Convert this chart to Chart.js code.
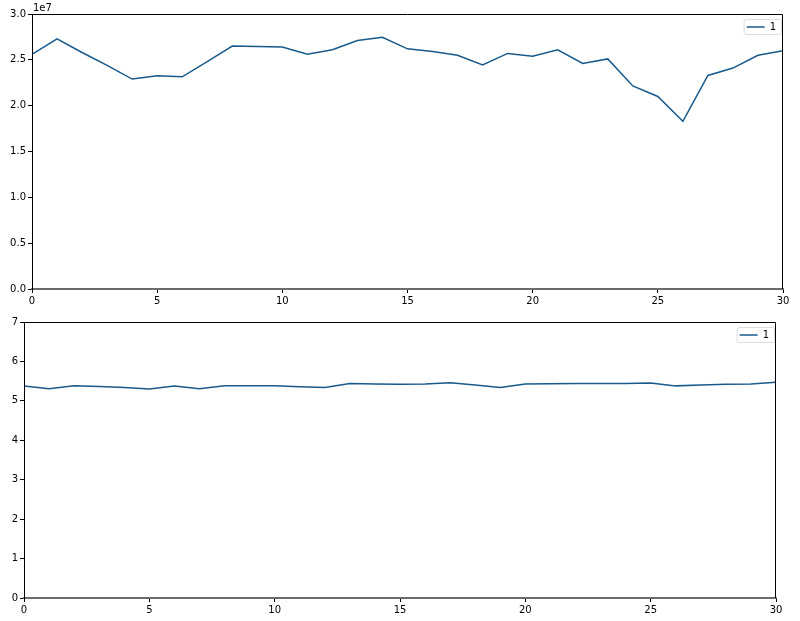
<!DOCTYPE html>
<html>
<head>
  <meta charset="utf-8">
  <title>Two series</title>
  <script src="https://cdn.jsdelivr.net/npm/chart.js"></script>
  <style>
    body { margin: 0; padding: 0; background: #ffffff; }
    #wrap { position: relative; width: 800px; height: 621px; }
    .box { position: absolute; left: 0; width: 800px; }
    #top { top: 0; height: 310px; }
    #bottom { top: 310px; height: 311px; }
  </style>
</head>
<body>
  <div id="wrap">
    <div class="box" id="top"><canvas id="chartTop"></canvas></div>
    <div class="box" id="bottom"><canvas id="chartBottom"></canvas></div>
  </div>

  <script>
    // x positions (shared)
    const steps = [0,1,2,3,4,5,6,7,8,9,10,11,12,13,14,15,16,17,18,19,20,21,22,23,24,25,26,27,28,29,30];

    // top series, in units of 1e7
    const topValues = [2.56, 2.73, 2.58, 2.44, 2.29, 2.325, 2.315, 2.48, 2.65, 2.645, 2.64, 2.56, 2.61, 2.71, 2.745,
                       2.62, 2.59, 2.55, 2.445, 2.57, 2.54, 2.61, 2.46, 2.51, 2.215, 2.10, 1.83, 2.33, 2.41, 2.55, 2.60];

    // bottom series
    const bottomValues = [5.38, 5.31, 5.38, 5.365, 5.34, 5.30, 5.375, 5.31, 5.38, 5.38, 5.38, 5.36, 5.34, 5.44, 5.43,
                          5.42, 5.43, 5.46, 5.40, 5.34, 5.43, 5.435, 5.44, 5.44, 5.44, 5.45, 5.38, 5.40, 5.42, 5.43, 5.47];

    const seriesName = '1';
    const xTicks = [0, 5, 10, 15, 20, 25, 30];
    const topTicks = [0, 0.5, 1.0, 1.5, 2.0, 2.5, 3.0];   // x 1e7
    const bottomTicks = [0, 1, 2, 3, 4, 5, 6, 7];

    const lineColor = '#185a8c';
    Chart.defaults.font.family = 'DejaVu Sans';
    Chart.defaults.font.size = 10;
    Chart.defaults.color = '#000000';

    // frame around the plot, legend box, optional offset text
    const framePlugin = {
      id: 'frame',
      afterDraw(chart, args, opts) {
        const { ctx, chartArea: a } = chart;
        ctx.save();
        ctx.strokeStyle = '#000000';
        ctx.lineWidth = 1;
        ctx.beginPath();
        ctx.moveTo(a.left + 0.5, a.bottom);
        ctx.lineTo(a.left + 0.5, a.top + 0.5);
        ctx.lineTo(a.right - 0.5, a.top + 0.5);
        ctx.lineTo(a.right - 0.5, a.bottom);
        ctx.stroke();

        // legend
        const label = chart.data.datasets[0].label;
        ctx.font = '10px "DejaVu Sans"';
        const tw = ctx.measureText(label).width;
        const w = 25 + tw + 6, h = 15;
        const x = a.right - 2 - w, y = a.top + 5;
        ctx.beginPath();
        ctx.roundRect(x + 0.5, y + 0.5, w, h, 2);
        ctx.fillStyle = 'rgba(255,255,255,0.8)';
        ctx.fill();
        ctx.strokeStyle = '#dcdcdc';
        ctx.stroke();
        ctx.beginPath();
        ctx.strokeStyle = lineColor;
        ctx.lineWidth = 1.5;
        ctx.moveTo(x + 3, y + h / 2 + 0.5);
        ctx.lineTo(x + 21, y + h / 2 + 0.5);
        ctx.stroke();
        ctx.fillStyle = '#000000';
        ctx.textBaseline = 'middle';
        ctx.fillText(label, x + 26, y + h / 2 + 1);

        if (opts.offsetText) {
          ctx.textBaseline = 'bottom';
          ctx.fillText(opts.offsetText, a.left + 1, a.top - 1);
        }
        ctx.restore();
      }
    };

    function makeChart(id, values, yTicks, yMax, fmt, pad, yWidth, xHeight, offsetText) {
      return new Chart(document.getElementById(id), {
        type: 'line',
        data: {
          datasets: [{
            label: seriesName,
            data: steps.map((s, i) => ({ x: s, y: values[i] })),
            borderColor: lineColor,
            borderWidth: 1.5,
            pointRadius: 0,
            tension: 0,
            fill: false
          }]
        },
        options: {
          responsive: true,
          maintainAspectRatio: false,
          animation: false,
          layout: { padding: pad },
          plugins: {
            legend: { display: false },
            tooltip: { enabled: false },
            frame: { offsetText: offsetText }
          },
          scales: {
            x: {
              type: 'linear',
              min: 0,
              max: 30,
              afterBuildTicks: (s) => { s.ticks = xTicks.map(v => ({ value: v })); },
              afterFit: (s) => { s.height = xHeight; },
              grid: { drawOnChartArea: false, tickLength: 4, color: '#000000' },
              border: { display: true, color: '#6b6b6b', width: 2 },
              ticks: { maxRotation: 0, padding: 2, autoSkip: false }
            },
            y: {
              min: 0,
              max: yMax,
              afterBuildTicks: (s) => { s.ticks = yTicks.map(v => ({ value: v })); },
              afterFit: (s) => { s.width = yWidth; },
              grid: { drawOnChartArea: false, tickLength: 4, color: '#000000' },
              border: { display: true, color: '#000000' },
              ticks: { padding: 2, autoSkip: false, callback: fmt }
            }
          }
        },
        plugins: [framePlugin]
      });
    }

    makeChart('chartTop', topValues, topTicks, 3.0, v => v.toFixed(1),
      { top: 14, right: 17, left: 0, bottom: 0 }, 32, 21, '1e7');
    makeChart('chartBottom', bottomValues, bottomTicks, 7, v => String(v),
      { top: 12, right: 24, left: 0, bottom: 0 }, 24, 23, '');
  </script>
</body>
</html>
